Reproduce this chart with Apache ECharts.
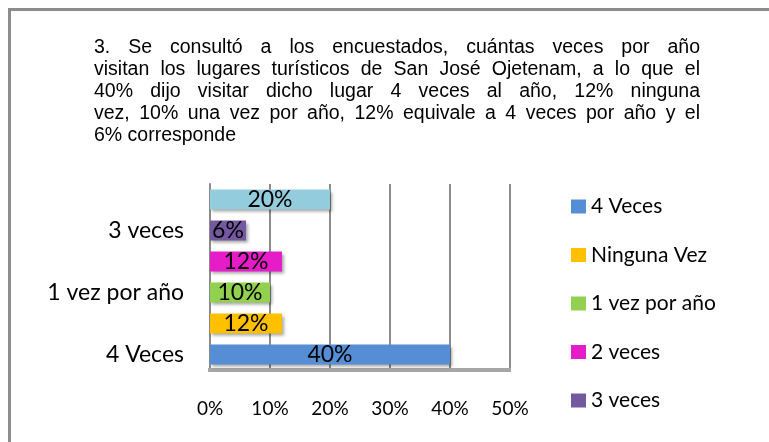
<!DOCTYPE html>
<html>
<head>
<meta charset="utf-8">
<script src="https://cdn.jsdelivr.net/npm/echarts@6/dist/echarts.min.js"></script>
<style>
  html, body { margin: 0; padding: 0; background: #fff; }
  #container { width: 769px; height: 442px; }
</style>
</head>
<body>
<div id="container"></div>
<script>
    var categories = ['4 Veces', 'Ninguna Vez', '1 vez por año', '2 veces', '3 veces', 'Otros'];
    var values = [40, 12, 10, 12, 6, 20];
    var colors = ['#558ED5', '#FFC000', '#92D050', '#E61CC8', '#7459A0', '#93CDDD'];
    var legendNames = ['4 Veces', 'Ninguna Vez', '1 vez por año', '2 veces', '3 veces'];
    var xTicks = [0, 10, 20, 30, 40, 50];

    var titleLines = [
      '3. Se consultó a los encuestados, cuántas veces por año',
      'visitan los lugares  turísticos de San José Ojetenam, a lo que el',
      '40% dijo visitar dicho lugar 4 veces al año, 12% ninguna',
      'vez, 10% una vez por año, 12% equivale a 4 veces por año y el',
      '6% corresponde'
    ];

    var dom = document.getElementById('container');
    var myChart = echarts.init(dom, null, { renderer: 'canvas' });

    var labelFont = 'Lato';

    // justified paragraph, word by word
    var titleFont = '19.5px "Liberation Sans"';
    var ctx = document.createElement('canvas').getContext('2d');
    ctx.font = titleFont;
    var textLeft = 94, textRight = 700, lineTop = 48, lineStep = 22;
    var graphics = [{
      type: 'rect',
      shape: { x: 9.5, y: 9.5, width: 800, height: 500 },
      style: { fill: 'none', stroke: '#8c8c8c', lineWidth: 3 },
      silent: true
    }];
    titleLines.forEach(function (line, i) {
      var words = line.split(/ +/);
      var widths = words.map(function (w) { return ctx.measureText(w).width; });
      var total = widths.reduce(function (a, b) { return a + b; }, 0);
      var last = i === titleLines.length - 1;
      var gap = last ? ctx.measureText(' ').width : (textRight - textLeft - total) / (words.length - 1);
      var x = textLeft;
      words.forEach(function (w, j) {
        graphics.push({
          type: 'text',
          x: x, y: lineTop + i * lineStep,
          style: { text: w, font: titleFont, fill: '#000', verticalAlign: 'middle' },
          silent: true
        });
        x += widths[j] + gap;
      });
    });

    var series = categories.map(function (name, i) {
      return {
        name: name,
        type: 'bar',
        stack: 'all',
        barWidth: 20,
        data: categories.map(function (c, j) { return j === i ? values[i] : '-'; }),
        itemStyle: {
          color: colors[i],
          shadowColor: 'rgba(0,0,0,0.35)',
          shadowBlur: 3,
          shadowOffsetX: 2,
          shadowOffsetY: 2
        },
        label: {
          show: true,
          position: 'inside',
          formatter: '{c}%',
          color: '#000',
          fontFamily: labelFont,
          fontSize: 23
        }
      };
    });

    var option = {
      animation: false,
      graphic: graphics,
      grid: { left: 210, top: 184, width: 300, height: 186 },
      legend: {
        data: legendNames,
        orient: 'vertical',
        left: 571,
        top: 196,
        padding: 0,
        itemWidth: 15,
        itemHeight: 14,
        itemGap: 27.5,
        icon: 'rect',
        textStyle: { fontFamily: labelFont, fontSize: 21, color: '#000' }
      },
      xAxis: {
        type: 'value',
        min: xTicks[0],
        max: xTicks[xTicks.length - 1],
        interval: 10,
        axisLine: { show: false },
        axisTick: { show: false },
        axisLabel: {
          formatter: '{value}%',
          margin: 29,
          color: '#000',
          fontFamily: labelFont,
          fontSize: 19
        },
        splitLine: { lineStyle: { color: '#8c8c8c', width: 2 } }
      },
      yAxis: {
        type: 'category',
        data: categories,
        axisLine: { show: true, lineStyle: { color: '#8c8c8c', width: 2 } },
        axisTick: { show: false },
        axisLabel: {
          interval: 1,
          margin: 26,
          color: '#000',
          fontFamily: labelFont,
          fontSize: 23
        }
      },
      series: series
    };

    // floor line under the bars
    option.graphic.push({
      type: 'rect',
      shape: { x: 208, y: 368, width: 303, height: 4 },
      style: { fill: '#a6a6a6' },
      silent: true,
      z: 1
    });

    myChart.setOption(option);
    window.addEventListener('resize', myChart.resize);
</script>
</body>
</html>
